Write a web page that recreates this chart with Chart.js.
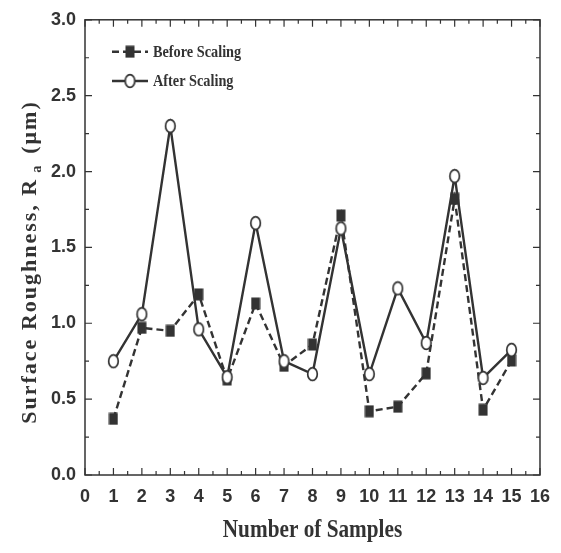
<!DOCTYPE html>
<html>
<head>
<meta charset="utf-8">
<script src="https://cdn.jsdelivr.net/npm/chart.js@4/dist/chart.umd.min.js"></script>
<style>
html,body{margin:0;padding:0;background:#fff;}
#wrap{width:561px;height:553px;position:relative;}
</style>
</head>
<body>
<div id="wrap"><canvas id="c" width="561" height="553"></canvas></div>
<script>
// ---- data ----
const samples = [1,2,3,4,5,6,7,8,9,10,11,12,13,14,15];
const beforeScaling = [0.37,0.97,0.95,1.19,0.63,1.13,0.72,0.86,1.71,0.42,0.45,0.67,1.82,0.43,0.755];
const afterScaling  = [0.75,1.06,2.30,0.96,0.645,1.66,0.75,0.665,1.625,0.665,1.23,0.87,1.97,0.64,0.825];
const xTicks = [0,1,2,3,4,5,6,7,8,9,10,11,12,13,14,15,16];
const yTicks = [0,0.5,1.0,1.5,2.0,2.5,3.0];
const seriesNames = ['Before Scaling','After Scaling'];
const xTitle = 'Number of Samples';
const yTitleMain = 'Surface Roughness, R';
const yTitleSub = 'a';
const yTitleUnit = '(\u03BCm)';

const INK = '#333333';
const TICK_FAMILY = "'Liberation Sans', Arial, sans-serif";

function makeRect(){
  const c = document.createElement('canvas'); c.width = 10; c.height = 13;
  const g = c.getContext('2d'); g.fillStyle = INK; g.fillRect(0.5,0.5,9,12);
  return c;
}
function makeEllipse(){
  const c = document.createElement('canvas'); c.width = 13; c.height = 16;
  const g = c.getContext('2d');
  g.beginPath(); g.ellipse(6.5,8,4.8,6.4,0,0,Math.PI*2);
  g.fillStyle = '#fff'; g.fill(); g.lineWidth = 1.7; g.strokeStyle = INK; g.stroke();
  return c;
}
const rectImg = makeRect();
const ellImg = makeEllipse();

const frameAndTicks = {
  id: 'frameAndTicks',
  afterDraw(chart){
    const {ctx, chartArea:a, scales:{x,y}} = chart;
    ctx.save();
    ctx.strokeStyle = INK; ctx.lineWidth = 1.5;
    ctx.strokeRect(a.left, a.top, a.right - a.left, a.bottom - a.top);
    ctx.lineWidth = 1.2;
    const major = 7, minor = 4;
    for (let i=0;i<xTicks.length;i++){
      const px = x.getPixelForValue(xTicks[i]);
      ctx.beginPath();
      ctx.moveTo(px, a.bottom); ctx.lineTo(px, a.bottom - major);
      ctx.moveTo(px, a.top); ctx.lineTo(px, a.top + major);
      ctx.stroke();
      if (i < xTicks.length-1){
        const pm = x.getPixelForValue((xTicks[i]+xTicks[i+1])/2);
        ctx.beginPath();
        ctx.moveTo(pm, a.bottom); ctx.lineTo(pm, a.bottom - minor);
        ctx.moveTo(pm, a.top); ctx.lineTo(pm, a.top + minor);
        ctx.stroke();
      }
    }
    for (let i=0;i<yTicks.length;i++){
      const py = y.getPixelForValue(yTicks[i]);
      ctx.beginPath();
      ctx.moveTo(a.left, py); ctx.lineTo(a.left + major, py);
      ctx.moveTo(a.right, py); ctx.lineTo(a.right - major, py);
      ctx.stroke();
      if (i < yTicks.length-1){
        const pm = y.getPixelForValue((yTicks[i]+yTicks[i+1])/2);
        ctx.beginPath();
        ctx.moveTo(a.left, pm); ctx.lineTo(a.left + minor, pm);
        ctx.moveTo(a.right, pm); ctx.lineTo(a.right - minor, pm);
        ctx.stroke();
      }
    }
    // x title
    ctx.fillStyle = INK;
    ctx.font = "bold 25px 'Liberation Serif', 'DejaVu Serif', serif";
    ctx.textAlign = 'center'; ctx.textBaseline = 'alphabetic';
    ctx.save();
    ctx.translate((a.left + a.right)/2, 537);
    ctx.scale(0.85, 1);
    ctx.fillText(xTitle, 0, 0);
    ctx.restore();
    // y title (rotated, letter spaced, subscript)
    ctx.save();
    ctx.translate(36, 262);
    ctx.rotate(-Math.PI/2);
    ctx.textAlign = 'left';
    const mainFont = "bold 22px 'Liberation Serif', 'DejaVu Serif', serif";
    const subFont = "bold 14px 'Liberation Serif', 'DejaVu Serif', serif";
    ctx.letterSpacing = '2px';
    ctx.font = mainFont; const w1 = ctx.measureText(yTitleMain).width;
    ctx.font = subFont; const w2 = ctx.measureText(yTitleSub).width;
    ctx.font = mainFont; const w3 = ctx.measureText(yTitleUnit).width;
    const g1 = 5, g2 = 10;
    let sx = -(w1 + g1 + w2 + g2 + w3)/2;
    ctx.font = mainFont; ctx.fillText(yTitleMain, sx, 0); sx += w1 + g1;
    ctx.font = subFont; ctx.fillText(yTitleSub, sx, 5); sx += w2 + g2;
    ctx.font = mainFont; ctx.fillText(yTitleUnit, sx, 0);
    ctx.restore();
    // legend
    const rows = [{y:51.7, ds:chart.data.datasets[0]}, {y:81, ds:chart.data.datasets[1]}];
    ctx.font = "bold 17px 'Liberation Serif', 'DejaVu Serif', serif";
    ctx.textBaseline = 'middle';
    ctx.textAlign = 'left';
    rows.forEach(r => {
      ctx.save();
      ctx.strokeStyle = INK; ctx.lineWidth = r.ds.borderWidth;
      ctx.setLineDash(r.ds.borderDash || []);
      ctx.beginPath(); ctx.moveTo(112, r.y); ctx.lineTo(148, r.y); ctx.stroke();
      ctx.setLineDash([]);
      const img = r.ds.pointStyle;
      ctx.drawImage(img, 130 - img.width/2, r.y - img.height/2);
      ctx.translate(153, r.y + 1);
      ctx.scale(0.84, 1);
      ctx.fillStyle = INK;
      ctx.fillText(r.ds.label, 0, 0);
      ctx.restore();
    });
    ctx.restore();
  }
};

new Chart(document.getElementById('c'), {
  type: 'line',
  data: {
    datasets: [
      {
        label: seriesNames[0],
        data: samples.map((s,i)=>({x:s, y:beforeScaling[i]})),
        borderColor: INK, borderWidth: 2.4, borderDash: [7,4],
        pointStyle: rectImg, pointRadius: 6, tension: 0, fill: false, order: 2
      },
      {
        label: seriesNames[1],
        data: samples.map((s,i)=>({x:s, y:afterScaling[i]})),
        borderColor: INK, borderWidth: 2.4,
        pointStyle: ellImg, pointRadius: 6, tension: 0, fill: false, order: 1
      }
    ]
  },
  options: {
    responsive: false, animation: false, devicePixelRatio: 1,
    layout: { padding: { top: 18, right: 11, left: 0, bottom: 0 } },
    plugins: { legend: { display: false }, tooltip: { enabled: false }, title: { display: false } },
    scales: {
      x: {
        type: 'linear', min: 0, max: 16,
        afterBuildTicks: s => { s.ticks = xTicks.map(v => ({value: v})); },
        afterFit: s => { s.height = 78; },
        grid: { display: false, drawTicks: false },
        border: { display: false },
        ticks: { color: INK, font: { family: TICK_FAMILY, size: 18, weight: 'bold' }, padding: 11, maxRotation: 0, autoSkip: false, callback: v => String(v) }
      },
      y: {
        type: 'linear', min: 0, max: 3,
        afterBuildTicks: s => { s.ticks = yTicks.map(v => ({value: v})); },
        afterFit: s => { s.width = 85; },
        grid: { display: false, drawTicks: false },
        border: { display: false },
        ticks: { color: INK, font: { family: TICK_FAMILY, size: 18, weight: 'bold' }, padding: 9, autoSkip: false, callback: v => Number(v).toFixed(1) }
      }
    }
  },
  plugins: [frameAndTicks]
});
</script>
</body>
</html>
